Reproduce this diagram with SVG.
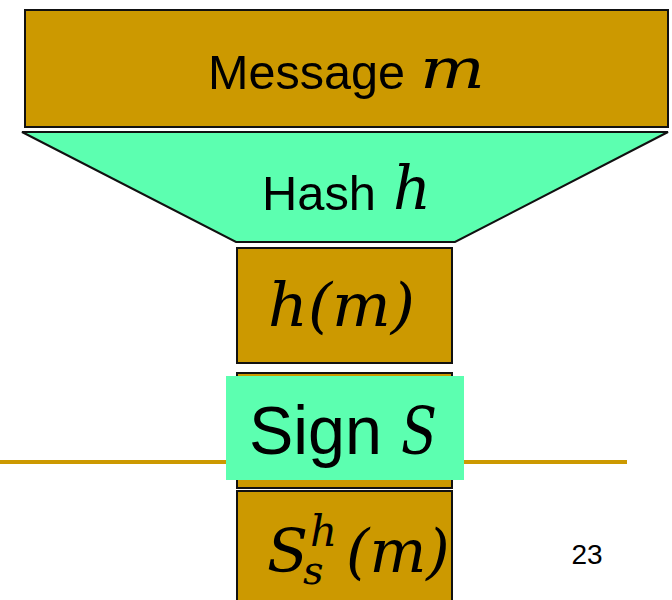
<svg xmlns="http://www.w3.org/2000/svg" width="672" height="600" viewBox="0 0 672 600">
<style>
.gold{fill:#CC9900;stroke:#111;stroke-width:2}
.green{fill:#5CFFB0}
.sans{font-family:"Liberation Sans",Arial,sans-serif;fill:#000}
.math{font-family:"DejaVu Serif","Liberation Serif",serif;font-style:italic;fill:#000}
</style>
<rect width="672" height="600" fill="#fff"/>
<g id="rule"><line x1="0" y1="462" x2="627" y2="462" stroke="#CC9900" stroke-width="4"/></g>
<g id="message">
<rect class="gold" x="25" y="10" width="643" height="117"/>
<text class="sans" x="208" y="89" font-size="49" textLength="197" lengthAdjust="spacingAndGlyphs">Message</text>
<text class="math" x="420" y="88" font-size="56" textLength="65" lengthAdjust="spacingAndGlyphs">m</text>
</g>
<g id="hash">
<polygon class="green" stroke="#111" stroke-width="2" points="22,132 668,132 455,242 236,242"/>
<text class="sans" x="262" y="210" font-size="49" textLength="114" lengthAdjust="spacingAndGlyphs">Hash</text>
<text class="math" x="393" y="209" font-size="60" textLength="38" lengthAdjust="spacingAndGlyphs">h</text>
</g>
<g id="hm">
<rect class="gold" x="237" y="248" width="215" height="115"/>
<text class="math" x="268" y="326" font-size="60" textLength="147" lengthAdjust="spacingAndGlyphs">h(m)</text>
</g>
<g id="sign">
<rect class="gold" x="237" y="373" width="215" height="115"/>
<rect class="green" x="226" y="376" width="238" height="104"/>
<text class="sans" x="249" y="454" font-size="69" textLength="133" lengthAdjust="spacingAndGlyphs">Sign</text>
<text class="math" x="401" y="454" font-size="66" textLength="36" lengthAdjust="spacingAndGlyphs">S</text>
</g>
<g id="signature">
<rect class="gold" x="237" y="491" width="215" height="115"/>
<text class="math" font-size="60"><tspan x="267" y="572">S</tspan><tspan x="310" y="546" font-size="42">h</tspan><tspan x="303" y="584" font-size="40">s</tspan><tspan x="346" y="572">(m)</tspan></text>
</g>
<g id="page"><text class="sans" x="587" y="564" font-size="28" text-anchor="middle">23</text></g>
</svg>
